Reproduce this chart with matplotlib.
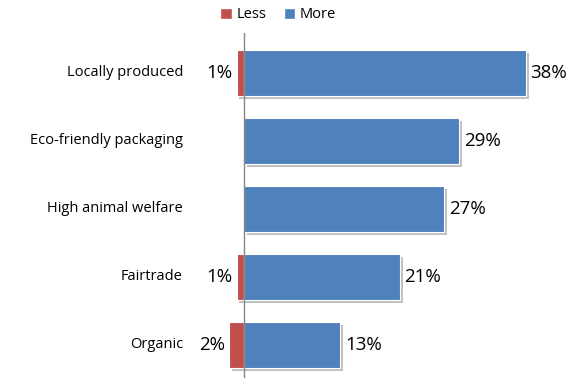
import matplotlib
matplotlib.use("Agg")
import matplotlib.pyplot as plt
import matplotlib.patheffects as pe
from matplotlib.patches import Patch

categories = ["Locally produced", "Eco-friendly packaging", "High animal welfare", "Fairtrade", "Organic"]
less = [1, 0, 0, 1, 2]
more = [38, 29, 27, 21, 13]

W, H = 582, 390
fig = plt.figure(figsize=(W / 100, H / 100), dpi=100)
ax_l, ax_r, ax_t, ax_b = 200, 575, 33, 378
ax = fig.add_axes([ax_l / W, 1 - ax_b / H, (ax_r - ax_l) / W, (ax_b - ax_t) / H])
scale = 7.42
zero = 244
ax.set_xlim((ax_l - zero) / scale, (ax_r - zero) / scale)
ax.set_ylim(4 + (ax_b - 345) / 68, (ax_t - 73) / 68)

red = "#C0504D"
blue = "#4F81BD"
shadow = [pe.SimplePatchShadow(offset=(2, -2), shadow_rgbFace="#999999", alpha=0.6), pe.Normal()]
ys = list(range(len(categories)))
bh = 0.67
for y, l, m in zip(ys, less, more):
    if l > 0:
        ax.barh(y, -l, height=bh, color=red, edgecolor="white", linewidth=0.8, path_effects=shadow, zorder=2)
    ax.barh(y, m, height=bh, color=blue, edgecolor="white", linewidth=0.8, path_effects=shadow, zorder=2)
    ax.text(m + 0.6, y, f"{m}%", va="center", ha="left", fontsize=13.5, family="Open Sans")
    if l > 0:
        ax.text(-l - 0.6, y, f"{l}%", va="center", ha="right", fontsize=13.5, family="Open Sans")
    ax.text(-(zero - 183) / scale, y, categories[y], va="center", ha="right", fontsize=10.5, family="Open Sans")

ax.axvline(0, color="#868686", linewidth=1, zorder=3)
for s in ax.spines.values():
    s.set_visible(False)
ax.set_xticks([])
ax.set_yticks([])

handles = [Patch(facecolor=red, edgecolor="white"), Patch(facecolor=blue, edgecolor="white")]
fig.legend(handles, ["Less", "More"], loc="center", bbox_to_anchor=(278 / W, 1 - 15 / H), ncol=2, frameon=False,
           prop={"family": "Open Sans", "size": 10.5}, handlelength=0.8, handleheight=0.8, handletextpad=0.3, columnspacing=1.2)

fig.savefig("out.png", dpi=100)
